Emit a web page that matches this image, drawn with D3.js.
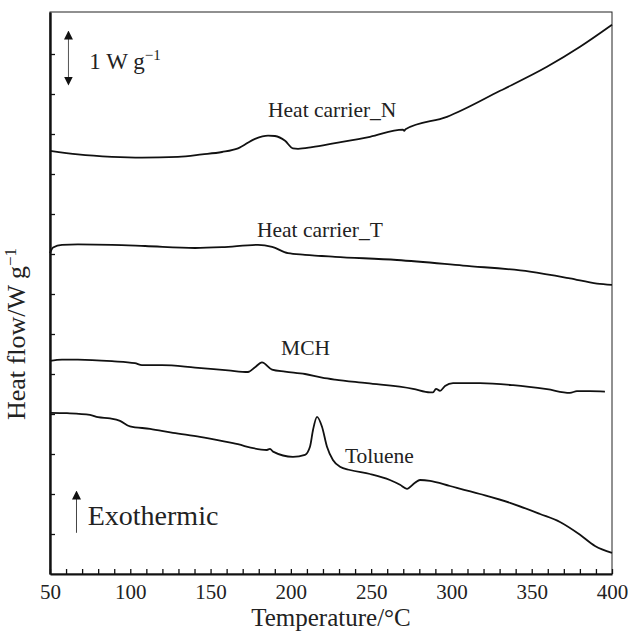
<!DOCTYPE html>
<html>
<head>
  <meta charset="utf-8">
  <title>dsc-curves</title>
  <style>
    body { margin: 0; background: #fff; }
    text { font-family: "Liberation Serif", "Times New Roman", serif; fill: #222; }
    .axis path, .axis line { stroke: #111; }
    .axis text { font-size: 21px; fill: #222; }
    .curve { fill: none; stroke: #111; stroke-width: 1.8; }
  </style>
  <script src="https://cdn.jsdelivr.net/npm/d3@7"></script>
</head>
<body>
<script type="text/javascript">

  // temperature (°C) and heat flow (W/g, offset per curve)
  var tempN = [50, 67.4, 88.6, 107.3, 129.7, 144.7, 157.1, 167.1, 177.7, 185.8, 190.1, 196.4, 201.3, 204.5, 213.2, 227.5, 249.3, 269.8, 270.6, 271.4, 297.2, 330.3, 359.5, 380.1, 400];
  var flowN = [10.58, 10.49, 10.43, 10.41, 10.43, 10.49, 10.55, 10.64, 10.88, 10.96, 10.95, 10.83, 10.64, 10.63, 10.67, 10.77, 10.93, 11.11, 11.08, 11.12, 11.43, 12.08, 12.68, 13.18, 13.73];

  var tempT = [50, 51.9, 57.5, 67.4, 88.6, 109.2, 140.3, 157.1, 179.5, 188.3, 198.2, 208.8, 227.5, 266.1, 307.2, 348.9, 373.8, 390.7, 400];
  var flowT = [8.02, 8.16, 8.23, 8.24, 8.23, 8.20, 8.15, 8.17, 8.23, 8.18, 8.02, 7.98, 7.93, 7.85, 7.71, 7.56, 7.39, 7.26, 7.23];

  var tempM = [50, 57.5, 67.4, 88.6, 102.9, 107.3, 119.8, 140.3, 160.9, 173.3, 177.7, 182.0, 188.3, 196.4, 208.8, 219.4, 227.5, 247.4, 276.1, 286.7, 288.5, 290.4, 292.9, 296.0, 301.0, 317.8, 338.4, 359.5, 373.8, 378.2, 386.3, 395.6];
  var flowM = [5.33, 5.36, 5.36, 5.32, 5.27, 5.22, 5.22, 5.16, 5.09, 5.05, 5.17, 5.29, 5.11, 5.06, 5.00, 4.91, 4.86, 4.77, 4.63, 4.54, 4.54, 4.63, 4.58, 4.70, 4.77, 4.77, 4.72, 4.62, 4.53, 4.57, 4.57, 4.56];

  var tempTol = [50, 60.6, 74.9, 79.9, 87.4, 93.6, 99.8, 112.3, 126.6, 143.4, 164.0, 185.1, 187.0, 188.9, 201.3, 208.8, 211.9, 213.8, 216.3, 219.4, 222.5, 226.2, 230.6, 236.8, 249.3, 261.7, 268.0, 272.3, 277.3, 280.4, 286.7, 299.1, 317.8, 336.5, 355.2, 367.6, 380.1, 389.4, 400];
  var flowTol = [4.03, 4.02, 3.98, 3.92, 3.89, 3.83, 3.69, 3.63, 3.53, 3.43, 3.27, 3.10, 3.13, 3.06, 2.93, 2.98, 3.18, 3.60, 3.93, 3.68, 3.18, 2.85, 2.68, 2.60, 2.50, 2.35, 2.23, 2.13, 2.28, 2.35, 2.33, 2.20, 2.00, 1.78, 1.50, 1.30, 0.98, 0.70, 0.53];

  var curveNames = ["Heat carrier_N", "Heat carrier_T", "MCH", "Toluene"];
  var curveTemps = [tempN, tempT, tempM, tempTol];
  var curveFlows = [flowN, flowT, flowM, flowTol];
  // label anchor (temperature, heat flow) for each curve name
  var labelTemp = [185.8, 178.9, 193.9, 233.7];
  var labelFlow = [11.43, 8.43, 5.48, 2.78];

  var xTicks = d3.range(50, 401, 10);
  var yTicks = d3.range(1, 14, 1);

  var margin = {top: 12, right: 16, bottom: 60, left: 50};
  var width = 628 - margin.left - margin.right;
  var height = 634 - margin.top - margin.bottom;

  var svg = d3.select("body").append("svg")
    .attr("width", 628)
    .attr("height", 634);

  var g = svg.append("g")
    .attr("transform", "translate(" + margin.left + "," + margin.top + ")");

  var x = d3.scaleLinear().domain([50, 400]).range([0, width]);
  var y = d3.scaleLinear().domain([0, 14.05]).range([height, 0]);

  // frame: top and right thin
  g.append("rect")
    .attr("width", width)
    .attr("height", height)
    .attr("fill", "none")
    .attr("stroke", "#222")
    .attr("stroke-width", 1);

  // x axis, ticks inside
  g.append("g")
    .attr("class", "axis axis--x")
    .attr("transform", "translate(0," + height + ")")
    .call(d3.axisBottom(x)
      .tickValues(xTicks)
      .tickSizeInner(-5)
      .tickSizeOuter(0)
      .tickPadding(10)
      .tickFormat(function(d) { return d % 50 === 0 ? d : ""; }))
    .call(function(s) {
      s.attr("font-family", null).attr("font-size", null);
      s.select(".domain").attr("stroke-width", 2);
      s.selectAll(".tick line").attr("stroke-width", 1.3);
    });

  // y axis, unlabeled ticks inside
  g.append("g")
    .attr("class", "axis axis--y")
    .call(d3.axisLeft(y)
      .tickValues(yTicks)
      .tickSizeInner(-5)
      .tickSizeOuter(0)
      .tickFormat(""))
    .call(function(s) {
      s.select(".domain").attr("stroke-width", 2.4);
      s.selectAll(".tick line").attr("stroke-width", 1.3);
    });

  // axis titles
  svg.append("text")
    .attr("x", margin.left + width / 2)
    .attr("y", 626)
    .attr("text-anchor", "middle")
    .style("font-size", "25px")
    .text("Temperature/°C");

  var yTitle = svg.append("text")
    .attr("transform", "translate(25,334) rotate(-90)")
    .attr("text-anchor", "middle")
    .style("font-size", "26px");
  yTitle.append("tspan").text("Heat flow/W g");
  yTitle.append("tspan").attr("dy", -9).style("font-size", "17px").text("\u22121");

  // curves
  var line = d3.line()
    .x(function(d) { return x(d[0]); })
    .y(function(d) { return y(d[1]); })
    .curve(d3.curveMonotoneX);

  curveNames.forEach(function(name, i) {
    var pts = curveTemps[i].map(function(t, j) { return [t, curveFlows[i][j]]; });
    g.append("path")
      .attr("class", "curve")
      .attr("d", line(pts));

    g.append("text")
      .attr("x", x(labelTemp[i]))
      .attr("y", y(labelFlow[i]))
      .style("font-size", "21.5px")
      .text(name);
  });

  // scale bar: 1 W g-1
  svg.append("defs").append("marker")
    .attr("id", "head")
    .attr("viewBox", "0 0 10 10")
    .attr("refX", 5).attr("refY", 5)
    .attr("markerWidth", 9).attr("markerHeight", 9)
    .attr("markerUnits", "userSpaceOnUse")
    .attr("orient", "auto-start-reverse")
    .append("path")
    .attr("d", "M0,0L10,5L0,10Z")
    .attr("fill", "#111");

  var barX = x(61.5);
  g.append("line")
    .attr("x1", barX).attr("x2", barX)
    .attr("y1", y(12.4) + 3).attr("y2", y(13.4) - 3)
    .attr("stroke", "#555")
    .attr("stroke-width", 1)
    .attr("marker-start", "url(#head)")
    .attr("marker-end", "url(#head)");

  var unit = g.append("text")
    .attr("x", x(74.5))
    .attr("y", y(12.5) - 5)
    .style("font-size", "23px");
  unit.append("tspan").text("1 W g");
  unit.append("tspan").attr("dy", -9).style("font-size", "15px").text("\u22121");

  // exothermic arrow
  var exoX = x(66.5);
  g.append("line")
    .attr("x1", exoX).attr("x2", exoX)
    .attr("y1", y(1.03)).attr("y2", y(2.05) + 3)
    .attr("stroke", "#444")
    .attr("stroke-width", 1)
    .attr("marker-end", "url(#head)");

  g.append("text")
    .attr("x", x(73.5))
    .attr("y", y(1.23))
    .style("font-size", "28px")
    .text("Exothermic");

</script>
</body>
</html>
